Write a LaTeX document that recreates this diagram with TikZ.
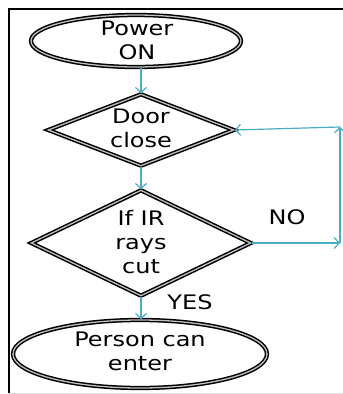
\documentclass[tikz,border=0pt]{standalone}
\usepackage{fontspec}
\newfontfamily\flowfont[FakeStretch=1.2]{DejaVu Sans}
\usetikzlibrary{shapes.geometric,arrows.meta}
\definecolor{flowblue}{HTML}{4BACC6}
\tikzset{
  x=1pt, y=-1pt,
  outline/.style={draw=black, line width=1.5pt, double=gray!50, double distance=1.3pt, inner sep=0pt},
  terminal/.style={outline, ellipse},
  decision/.style={outline, diamond},
  txt/.style={font=\flowfont\fontsize{20}{24}\selectfont, align=center, text=black, inner sep=0pt},
  flow/.style={draw=flowblue, line width=1.2pt, -{Straight Barb[length=5pt,width=11pt]}},
  frameline/.style={line width=1.8pt, draw=black}
}
\begin{document}
\begin{tikzpicture}
\useasboundingbox (0,0) rectangle (343,394);
% outer frame
\coordinate (fa) at (343,9);
\coordinate (fb) at (9,9);
\coordinate (fc) at (9,393);
\coordinate (fd) at (343,393);
\draw[frameline] (fa) -- (fb) -- (fc);
\draw[draw=gray!25, line width=0.8pt] (fc) -- (fd);

% shapes
\node[terminal, minimum width=210, minimum height=52] (pwr) at (136,41) {};
\node[txt] (pwrtxt) at (137,40) {Power\\ON};

\node[decision, minimum width=186, minimum height=72] (door) at (141,130) {};
\node[txt] (doortxt) at (141,128) {Door\\close};

\node[decision, minimum width=220, minimum height=106] (ir) at (141,243) {};
\node[txt] (irtxt) at (141,242) {If IR\\rays\\cut};

\node[terminal, minimum width=254, minimum height=68] (enter) at (140,354) {};
\node[txt] (entertxt) at (140,351) {Person can\\enter};

% connectors
\draw[flow] (door.north |- pwr.south) -- (door.north);
\draw[flow] (door.south) -- (ir.north);
\draw[flow] (ir.south) -- (ir.south |- enter.north);

\coordinate (loopb) at (340,243);
\coordinate (loopt) at (340,127);
\draw[flow] (ir.east) -- (loopb);
\draw[flow] (loopb) -- (loopt);
\draw[flow] (loopt) -- (door.east);

\node[txt] (no) at (287,217) {NO};
\node[txt] (yes) at (190,302) {YES};
\end{tikzpicture}
\end{document}
